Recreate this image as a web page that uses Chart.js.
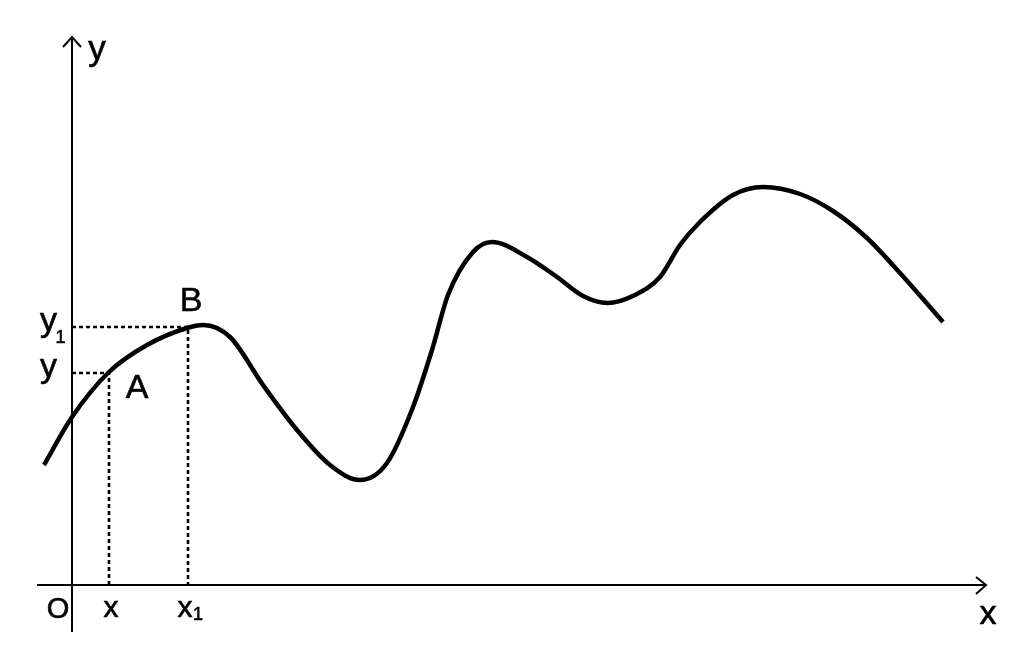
<!DOCTYPE html>
<html>
<head>
<meta charset="utf-8">
<script src="https://cdn.jsdelivr.net/npm/chart.js@4/dist/chart.umd.min.js"></script>
<style>
html,body{margin:0;padding:0;background:#fff;}
#wrap{width:1024px;height:666px;position:relative;}
</style>
</head>
<body>
<div id="wrap"><canvas id="c" width="1024" height="666"></canvas></div>
<script>
// Curve (units: origin O at 0,0)
const curveX = [-0.28, 0, 0.37, 0.75, 1.15, 1.31, 1.58, 1.91, 2.25, 2.58, 2.88, 3.15, 3.41, 3.60, 3.76, 4.01, 4.20, 4.55, 4.85, 5.11, 5.35, 5.63, 5.88, 6.08, 6.28, 6.61, 6.91, 7.28, 7.61, 7.95, 8.28, 8.71];
const curveY = [1.20, 1.68, 2.13, 2.40, 2.57, 2.60, 2.48, 2.00, 1.55, 1.20, 1.05, 1.22, 1.78, 2.35, 2.90, 3.33, 3.43, 3.28, 3.08, 2.89, 2.82, 2.90, 3.08, 3.40, 3.63, 3.90, 3.98, 3.91, 3.74, 3.47, 3.12, 2.63];
// Points A and B
const pointA = {x: 0.37, y: 2.12};
const pointB = {x: 1.16, y: 2.58};
// Axis extents
const xAxisRange = [-0.35, 9.14];
const yAxisRange = [-0.47, 5.48];
const labels = ["y", "x", "O", "A", "B", "y", "x", "y", "x", "1"];

const curve = curveX.map((x, i) => ({x, y: curveY[i]}));

const black = '#000';
const lineDs = (data, w, dash) => ({
  data, showLine: true, borderColor: black, borderWidth: w, pointRadius: 0,
  borderDash: dash || [], fill: false, clip: false, tension: 0
});

const labelPlugin = {
  id: 'labels',
  afterDatasetsDraw(chart) {
    const ctx = chart.ctx, sx = chart.scales.x, sy = chart.scales.y;
    const put = (t, x, y, size) => {
      ctx.save();
      ctx.font = size + 'px "Liberation Sans", Arial, sans-serif';
      ctx.fillStyle = black;
      ctx.strokeStyle = black;
      ctx.lineWidth = 0.6;
      ctx.textAlign = 'center';
      ctx.textBaseline = 'alphabetic';
      const px = sx.getPixelForValue(x), py = sy.getPixelForValue(y);
      ctx.fillText(t, px, py);
      ctx.strokeText(t, px, py);
      ctx.restore();
    };
    put('y', 0.25, 5.25, 35);            // y-axis name
    put('x', 9.16, -0.39, 34);           // x-axis name
    put('O', -0.14, -0.33, 29);          // origin
    put('A', pointA.x + 0.28, 1.87, 34);
    put('B', pointB.x + 0.03, 2.74, 34);
    put('y', -0.235, 2.54, 34);          // y1
    put('1', -0.115, 2.42, 18);
    put('y', -0.235, 2.08, 34);          // y
    put('x', pointA.x + 0.02, -0.32, 30); // x
    put('x', pointB.x - 0.03, -0.32, 30); // x1
    put('1', pointB.x + 0.10, -0.35, 18);
  }
};

new Chart(document.getElementById('c'), {
  type: 'scatter',
  data: {
    datasets: [
      lineDs([{x: xAxisRange[0], y: 0}, {x: xAxisRange[1], y: 0}], 2),
      lineDs([{x: 0, y: yAxisRange[0]}, {x: 0, y: yAxisRange[1]}], 2),
      lineDs([{x: -0.09, y: 5.38}, {x: 0, y: yAxisRange[1]}, {x: 0.09, y: 5.38}], 2),
      lineDs([{x: 9.04, y: 0.08}, {x: xAxisRange[1], y: 0}, {x: 9.04, y: -0.09}], 2),
      lineDs([{x: 0, y: pointB.y}, {x: pointB.x, y: pointB.y}, {x: pointB.x, y: 0}], 2.6, [4, 3]),
      lineDs([{x: 0, y: pointA.y}, {x: pointA.x, y: pointA.y}, {x: pointA.x, y: 0}], 2.6, [4, 3]),
      Object.assign(lineDs(curve, 4.5), {cubicInterpolationMode: 'monotone', borderCapStyle: 'butt', borderJoinStyle: 'round'})
    ]
  },
  options: {
    responsive: false,
    animation: false,
    events: [],
    layout: {padding: 0},
    plugins: {legend: {display: false}, tooltip: {enabled: false}},
    scales: {
      x: {type: 'linear', min: -0.72, max: 9.52, display: false},
      y: {type: 'linear', min: -0.81, max: 5.85, display: false}
    }
  },
  plugins: [labelPlugin]
});
</script>
</body>
</html>
